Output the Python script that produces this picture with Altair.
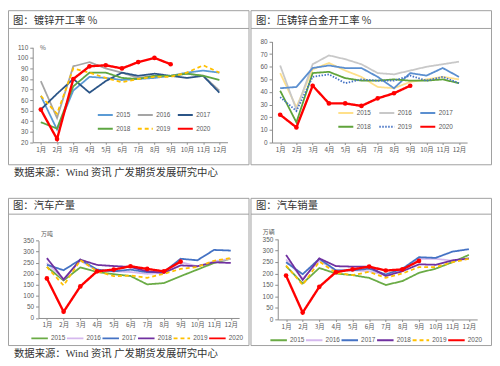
import altair as alt
import pandas as pd

months = ['1月', '2月', '3月', '4月', '5月', '6月', '7月', '8月', '9月', '10月', '11月', '12月']
years = ['2015', '2016', '2017', '2018', '2019', '2020']

# 镀锌开工率 %
galv_2015 = [64, 32, 69, 82, 81, 79, 80, 81, 83, 86, 88, 86]
galv_2016 = [78, 43, 92, 96, 90, 86, 81, 83, 83, 85, 83, 69]
galv_2017 = [51, 66, 80, 67, 78, 86, 83, 85, 83, 81, 83, 67]
galv_2018 = [39, 33, 73, 86, 86, 81, 80, 83, 83, 85, 83, 79]
galv_2019 = [64, 47, 90, 86, 81, 77, 80, 82, 82, 86, 93, 86]
galv_2020 = [51, 23, 80, 92, 93, 90, 96, 100, 94]

# 压铸锌合金开工率 %
die_2015 = [55, 28, 58, 63, 57, 52, 44, 43, 48, 50, 52, 50]
die_2016 = [61, 26, 62, 69, 66, 62, 55, 54, 57, 60, 62, 64]
die_2017 = [43, 44, 59, 61, 59, 59, 52, 43, 55, 53, 59, 52]
die_2018 = [41, 16, 55, 56, 51, 49, 49, 50, 49, 49, 50, 47]
die_2019 = [36, 25, 52, 54, 47, 50, 49, 49, 53, 49, 52, 47]
die_2020 = [22, 12, 45, 31, 31, 29, 35, 39, 45]

# 汽车产量 万吨
prod_2015 = [231, 170, 229, 208, 198, 190, 152, 158, 189, 219, 249, 268]
prod_2016 = [249, 175, 259, 214, 211, 208, 200, 204, 253, 234, 256, 268]
prod_2017 = [241, 216, 264, 219, 211, 219, 207, 208, 268, 261, 308, 305]
prod_2018 = [271, 174, 264, 240, 235, 231, 211, 204, 238, 234, 252, 249]
prod_2019 = [231, 147, 261, 212, 189, 192, 182, 200, 222, 231, 259, 271]
prod_2020 = [179, 28, 143, 211, 219, 234, 222, 211, 255]

# 汽车销量 万辆
sales_2015 = [232, 157, 224, 200, 193, 181, 150, 167, 203, 221, 249, 281]
sales_2016 = [261, 178, 256, 214, 214, 210, 193, 214, 264, 264, 256, 264]
sales_2017 = [249, 197, 264, 214, 214, 221, 196, 221, 271, 268, 295, 306]
sales_2018 = [281, 172, 266, 232, 230, 230, 189, 210, 240, 238, 257, 266]
sales_2019 = [235, 150, 252, 203, 193, 207, 181, 200, 228, 228, 249, 264]
sales_2020 = [191, 30, 142, 206, 218, 230, 213, 218, 255]

galv_colors = ['#5B9BD5', '#A5A5A5', '#2B5587', '#5EA642', '#FFC000', '#FF0000']
die_colors = ['#FFE08A', '#C8C8C8', '#5B8FD0', '#5FA33A', '#4472C4', '#FF0000']
auto_colors = ['#6AAB45', '#D5B8EE', '#4472C4', '#7030A0', '#FFC000', '#FF0000']

SOLID = [1, 0]
DASH = [4, 3]
DOT = [1.5, 1.5]

W, H = 490, 358
AX_COLOR = '#8C8C8C'
LAB_COLOR = '#595959'
CJK = 'Noto Sans CJK SC'


def long_df(series):
    rows = []
    for yr, vals in zip(years, series):
        for m, v in zip(months, vals):
            rows.append({'month': m, 'year': yr, 'value': v})
    return pd.DataFrame(rows)


def panel(series, colors, dashes, xr, yr, ydom, yvals, leg):
    df = long_df(series)
    xs = alt.Scale(type='point', domain=months, range=xr, padding=0.5)
    ys = alt.Scale(domain=ydom, range=yr, nice=False, zero=False)
    xax = alt.Axis(orient='bottom', offset=-(H - yr[0]), title=None, labelAngle=0, grid=False,
                   domainColor=AX_COLOR, tickColor=AX_COLOR, tickSize=2, labelFontSize=6.5,
                   labelFont=CJK, labelColor=LAB_COLOR, labelPadding=2)
    yax = alt.Axis(orient='left', offset=-xr[0], title=None, grid=False, values=yvals,
                   domainColor=AX_COLOR, tickColor=AX_COLOR, tickSize=3, labelFontSize=6.5,
                   labelFont='Liberation Sans', labelColor=LAB_COLOR, labelPadding=2)
    legend = alt.Legend(orient='none', legendX=leg['x'], legendY=leg['y'], columns=leg['cols'],
                        direction='horizontal',
                        title=None, symbolType='stroke', symbolSize=leg['size'], symbolStrokeWidth=2,
                        labelFontSize=6.5, labelFont='Liberation Sans', labelColor=LAB_COLOR,
                        columnPadding=leg['cpad'], rowPadding=leg['rpad'], labelOffset=2, padding=0)
    lines = alt.Chart(df).mark_line().encode(
        x=alt.X('month:O', scale=xs, axis=xax, sort=months),
        y=alt.Y('value:Q', scale=ys, axis=yax),
        color=alt.Color('year:N', scale=alt.Scale(domain=years, range=colors), legend=legend),
        strokeDash=alt.StrokeDash('year:N', scale=alt.Scale(domain=years, range=dashes), legend=legend),
        strokeWidth=alt.condition(alt.datum.year == '2020', alt.value(2.4), alt.value(1.8)),
    )
    pts = alt.Chart(df[df['year'] == '2020']).mark_point(filled=True, size=22, opacity=1,
                                                         color='#FF0000').encode(
        x=alt.X('month:O', scale=xs, axis=xax, sort=months),
        y=alt.Y('value:Q', scale=ys, axis=yax),
    )
    return alt.layer(lines, pts)


one = pd.DataFrame({'t': ['']})


def box(x0, x1, y0, y1, ysep):
    r = alt.Chart(one).mark_rect(fill='white', fillOpacity=0, stroke='#A0A0A0', strokeWidth=1).encode(
        x=alt.value(x0), x2=alt.value(x1), y=alt.value(y0), y2=alt.value(y1))
    s = alt.Chart(one).mark_rule(color='#A0A0A0', strokeWidth=1).encode(
        x=alt.value(x0), x2=alt.value(x1), y=alt.value(ysep))
    return alt.layer(r, s)


def label(txt, x, y, size, font, color='#262626', align='left'):
    d = pd.DataFrame({'t': [txt]})
    return alt.Chart(d).mark_text(align=align, baseline='middle', fontSize=size, font=font,
                                  color=color).encode(x=alt.value(x), y=alt.value(y), text='t:N')


deco = alt.layer(
    box(0.5, 244, 0.5, 156.5, 18.5),
    box(246, 489.5, 0.5, 156.5, 18.5),
    box(0.5, 244, 190.5, 339.5, 206.5),
    box(246, 489.5, 190.5, 339.5, 206.5),
    label('图：镀锌开工率 %', 5, 10.5, 10.5, CJK, '#333333'),
    label('图：压铸锌合金开工率 %', 251, 10.5, 10.5, CJK, '#333333'),
    label('图：汽车产量', 5, 198.5, 10.5, CJK, '#333333'),
    label('图：汽车销量', 251, 198.5, 10.5, CJK, '#333333'),
    label('数据来源：Wind 资讯  广发期货发展研究中心', 6, 164.5, 10.5, 'Liberation Serif, ' + CJK, '#333333'),
    label('数据来源：Wind 资讯  广发期货发展研究中心', 6, 348.5, 10.5, 'Liberation Serif, ' + CJK, '#333333'),
    label('%', 35.5, 38.5, 6.5, CJK, LAB_COLOR, 'center'),
    label('万吨', 39.5, 226.5, 6, CJK, LAB_COLOR, 'center'),
    label('万辆', 264, 224.5, 6, CJK, LAB_COLOR, 'center'),
)

p1 = panel([galv_2015, galv_2016, galv_2017, galv_2018, galv_2019, galv_2020], galv_colors,
           [SOLID, SOLID, SOLID, SOLID, DASH, SOLID], [25.0, 222.2], [133.7, 37.6], [20, 110],
           list(range(20, 111, 10)),
           {'x': 89.5, 'y': 97, 'cols': 3, 'size': 230, 'cpad': 2.5, 'rpad': 1})
p2 = panel([die_2015, die_2016, die_2017, die_2018, die_2019, die_2020], die_colors,
           [SOLID, SOLID, SOLID, SOLID, DOT, SOLID], [267.3, 464.8], [134.0, 31.7], [0, 80],
           list(range(0, 81, 10)),
           {'x': 333, 'y': 95, 'cols': 3, 'size': 230, 'cpad': 3.5, 'rpad': 1})
p3 = panel([prod_2015, prod_2016, prod_2017, prod_2018, prod_2019, prod_2020], auto_colors,
           [SOLID, SOLID, SOLID, SOLID, DASH, SOLID], [30.9, 234.0], [311.6, 233.3], [0, 350],
           list(range(0, 351, 50)),
           {'x': 22.5, 'y': 322.5, 'cols': 6, 'size': 279, 'cpad': -3.6, 'rpad': 1})
p4 = panel([sales_2015, sales_2016, sales_2017, sales_2018, sales_2019, sales_2020], auto_colors,
           [SOLID, SOLID, SOLID, SOLID, DASH, SOLID], [273.1, 475.0], [313.1, 231.7], [0, 350],
           list(range(0, 351, 50)),
           {'x': 264.5, 'y': 324.5, 'cols': 6, 'size': 279, 'cpad': -4.1, 'rpad': 1})

chart = alt.layer(deco, p1, p2, p3, p4).resolve_scale(
    x='independent', y='independent', color='independent', strokeDash='independent'
).properties(
    width=W, height=H, padding=0, autosize=alt.AutoSizeParams(type='none'), background='white'
).configure_view(stroke=None)

chart.save('out.html', embed_options={'renderer': 'svg', 'actions': False})
